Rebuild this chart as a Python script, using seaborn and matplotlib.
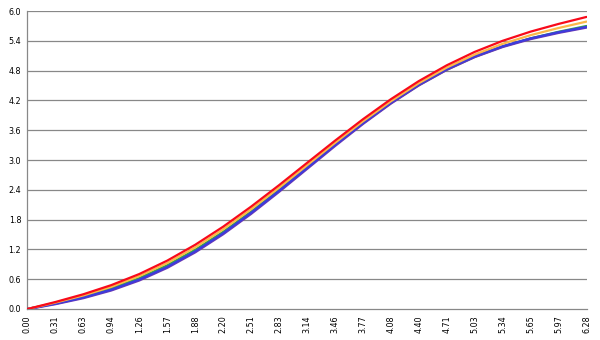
import matplotlib
matplotlib.use("Agg")
import matplotlib.pyplot as plt
import seaborn as sns
import pandas as pd

x_labels = ["0.00", "0.31", "0.63", "0.94", "1.26", "1.57", "1.88", "2.20", "2.51",
            "2.83", "3.14", "3.46", "3.77", "4.08", "4.40", "4.71", "5.03", "5.34",
            "5.65", "5.97", "6.28"]

purple = [0, 0.101, 0.222, 0.377, 0.578, 0.833, 1.144, 1.509, 1.919, 2.363, 2.824,
          3.285, 3.729, 4.140, 4.506, 4.819, 5.076, 5.279, 5.438, 5.563, 5.670]
blue = [0, 0.107, 0.232, 0.389, 0.592, 0.848, 1.160, 1.525, 1.936, 2.379, 2.840,
        3.301, 3.744, 4.155, 4.520, 4.832, 5.088, 5.291, 5.448, 5.573, 5.680]
green = [0, 0.117, 0.250, 0.415, 0.622, 0.881, 1.192, 1.554, 1.960, 2.396, 2.849,
         3.303, 3.739, 4.145, 4.507, 4.818, 5.077, 5.284, 5.449, 5.582, 5.699]
orange = [0, 0.129, 0.273, 0.447, 0.663, 0.926, 1.241, 1.604, 2.009, 2.443, 2.893,
          3.344, 3.778, 4.182, 4.546, 4.861, 5.124, 5.340, 5.514, 5.658, 5.787]
red = [0, 0.141, 0.297, 0.481, 0.704, 0.974, 1.293, 1.657, 2.061, 2.493, 2.941,
       3.388, 3.820, 4.224, 4.589, 4.907, 5.177, 5.400, 5.585, 5.740, 5.881]

series = {"green": green, "purple": purple, "blue": blue, "orange": orange, "red": red}
colors = {"purple": "#7038b0", "blue": "#3c3cdc", "green": "#30b040",
          "orange": "#fbb848", "red": "#f80a1a"}
widths = {"green": 1.6, "purple": 1.9, "blue": 1.7, "orange": 1.6, "red": 1.6}

rows = []
for name, vals in series.items():
    for i, v in enumerate(vals):
        rows.append({"idx": i, "value": v, "series": name})
df = pd.DataFrame(rows)

sns.set_style("white")
plt.rcParams["font.family"] = ["DejaVu Sans"]

fig = plt.figure(figsize=(6, 3.4), dpi=100)
ax = fig.add_axes([0.0458, 0.0912, 0.9317, 0.8764])

for y in [0.6 * k for k in range(1, 11)]:
    ax.axhline(y, color="#888888", lw=0.9, zorder=1)

for z, name in enumerate(series.keys()):
    sns.lineplot(data=df[df["series"] == name], x="idx", y="value",
                 color=colors[name], linewidth=widths[name], legend=False, ax=ax,
                 zorder=3 + z)

ax.set_xlim(0, len(x_labels) - 1)
ax.set_ylim(0, 6.0)
ax.set_xticks(range(len(x_labels)))
ax.set_xticklabels(x_labels, rotation=90, fontsize=5.8)
yt = [0.6 * k for k in range(11)]
ax.set_yticks(yt)
ax.set_yticklabels([f"{v:.1f}" for v in yt], fontsize=5.8)
ax.tick_params(axis="both", length=0, pad=4.5, colors="black")
ax.set_xlabel("")
ax.set_ylabel("")
for s in ["top", "right"]:
    ax.spines[s].set_visible(False)
for s in ["left", "bottom"]:
    ax.spines[s].set_color("#888888")
    ax.spines[s].set_linewidth(0.9)

fig.savefig("out.png", dpi=100)
